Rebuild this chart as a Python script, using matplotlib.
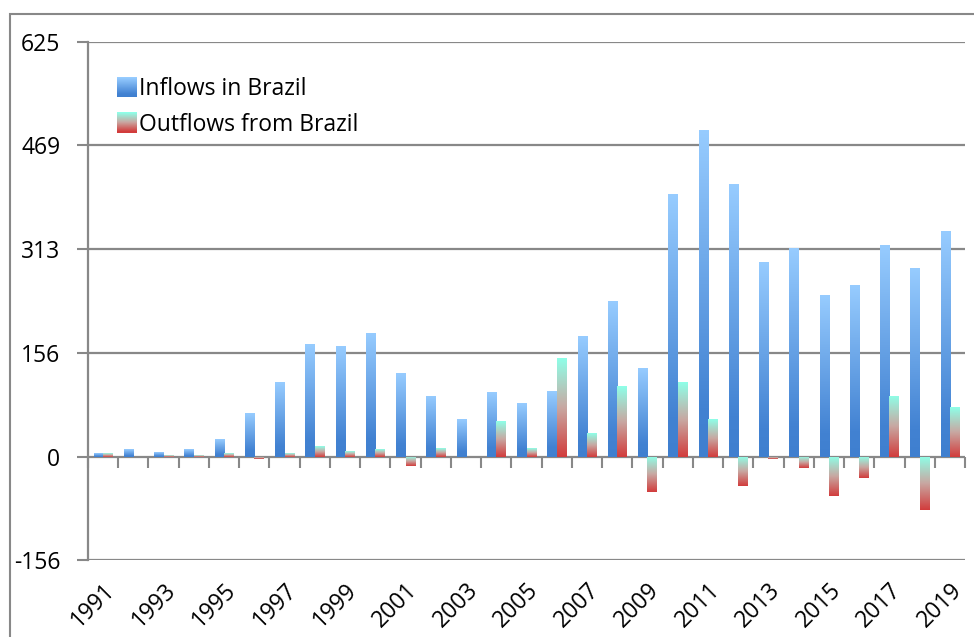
import matplotlib.pyplot as plt
import numpy as np
from matplotlib.colors import LinearSegmentedColormap
from matplotlib.legend_handler import HandlerBase
from matplotlib.patches import Rectangle

plt.rcParams['font.family'] = ['Open Sans', 'DejaVu Sans']

years = list(range(1991, 2020))
inflows = [6, 12, 7, 12, 27, 66, 113, 170, 166, 187, 126, 92, 56, 98, 80,
           99, 181, 235, 134, 396, 492, 411, 293, 314, 244, 259, 319, 284, 340]
outflows = [6, 0, 3, 3, 6, -4, 6, 16, 9, 12, -15, 13, 0, 53, 13,
            149, 36, 107, -54, 113, 56, -44, -4, -18, -59, -32, 92, -80, 74]
y_ticks = [-156, 0, 156, 313, 469, 625]

# top -> bottom colour ramps
inflow_cmap = LinearSegmentedColormap.from_list(
    "inflow", [(0.0, "#97CCFF"), (0.85, "#4282D2"), (1.0, "#3F7FCF")])
outflow_cmap = LinearSegmentedColormap.from_list(
    "outflow", [(0.0, "#8EFFE8"), (0.5, "#C8A8A2"), (1.0, "#D23C3C")])

grey = "#888888"


def gradient_fill(ax, bars, cmap):
    ramp = cmap(np.linspace(0, 1, 256))[:, None, :3]
    for b in bars:
        x0, y0 = b.get_x(), b.get_y()
        w, h = b.get_width(), b.get_height()
        if h == 0:
            continue
        lo, hi = min(y0, y0 + h), max(y0, y0 + h)
        img = ax.imshow(ramp, extent=(x0, x0 + w, lo, hi), origin="upper",
                        aspect="auto", interpolation="bilinear", zorder=3)
        img.set_clip_path(b)


class GradientHandler(HandlerBase):
    def __init__(self, cmap):
        super().__init__()
        self.cmap = cmap

    def create_artists(self, legend, orig_handle, xdescent, ydescent,
                       width, height, fontsize, trans):
        n = 20
        size = height * 1.25
        x = xdescent + (width - size) / 2
        y = -ydescent - (size - height) / 2
        strips = []
        for k in range(n):
            strips.append(Rectangle((x, y + size * (n - 1 - k) / n), size, size / n + 0.3,
                                    facecolor=self.cmap(k / (n - 1)), edgecolor="none",
                                    transform=trans))
        return strips


fig = plt.figure(figsize=(9.74, 6.37), dpi=100)
fig.patches.append(Rectangle((10 / 974, -0.1), 1.2, 1.1 - 14 / 637, transform=fig.transFigure,
                             fill=False, edgecolor=grey, linewidth=1.5))
ax = fig.add_axes([88 / 974, 1 - 560 / 637, 877 / 974, 518 / 637])

x = np.arange(len(years))
w = 0.31
bars_in = ax.bar(x - w / 2, inflows, w, color="none", edgecolor="none", zorder=3)
bars_out = ax.bar(x + w / 2, outflows, w, color="none", edgecolor="none", zorder=3)
gradient_fill(ax, bars_in, inflow_cmap)
gradient_fill(ax, bars_out, outflow_cmap)

ax.set_xlim(-0.5, len(years) - 0.5)
ax.set_ylim(-156, 625)
ax.set_yticks(y_ticks)
ax.set_yticklabels([str(v) for v in y_ticks], fontsize=16.5)
ax.yaxis.grid(True, color=grey, linewidth=1.6)
ax.set_axisbelow(True)
ax.tick_params(axis="y", length=8, width=1.5, color=grey, pad=12)

ax.set_xticks(x[::2])
ax.set_xticklabels([str(y) for y in years[::2]], rotation=45, ha="right",
                   rotation_mode="anchor", fontsize=16.5)
ax.tick_params(axis="x", length=0, pad=13)

# category separators sit on the zero line
sec = ax.secondary_xaxis(156 / 781)
sec.set_xticks(np.arange(-0.5, len(years), 1.0))
sec.tick_params(axis="x", length=8, width=1.5, color=grey, labelbottom=False)
sec.spines["bottom"].set_visible(False)

for side in ("top", "right", "bottom"):
    ax.spines[side].set_visible(False)
ax.spines["left"].set_color(grey)
ax.spines["left"].set_linewidth(1.6)

h_in = Rectangle((0, 0), 1, 1)
h_out = Rectangle((0, 0), 1, 1)
ax.legend([h_in, h_out], ["Inflows in Brazil", "Outflows from Brazil"],
          handler_map={h_in: GradientHandler(inflow_cmap), h_out: GradientHandler(outflow_cmap)},
          loc="upper left", bbox_to_anchor=(0.024, 0.95), frameon=False, fontsize=16.5,
          handlelength=0.8, handletextpad=0.1, labelspacing=0.5, borderaxespad=0)

fig.savefig("out.png", dpi=100)
